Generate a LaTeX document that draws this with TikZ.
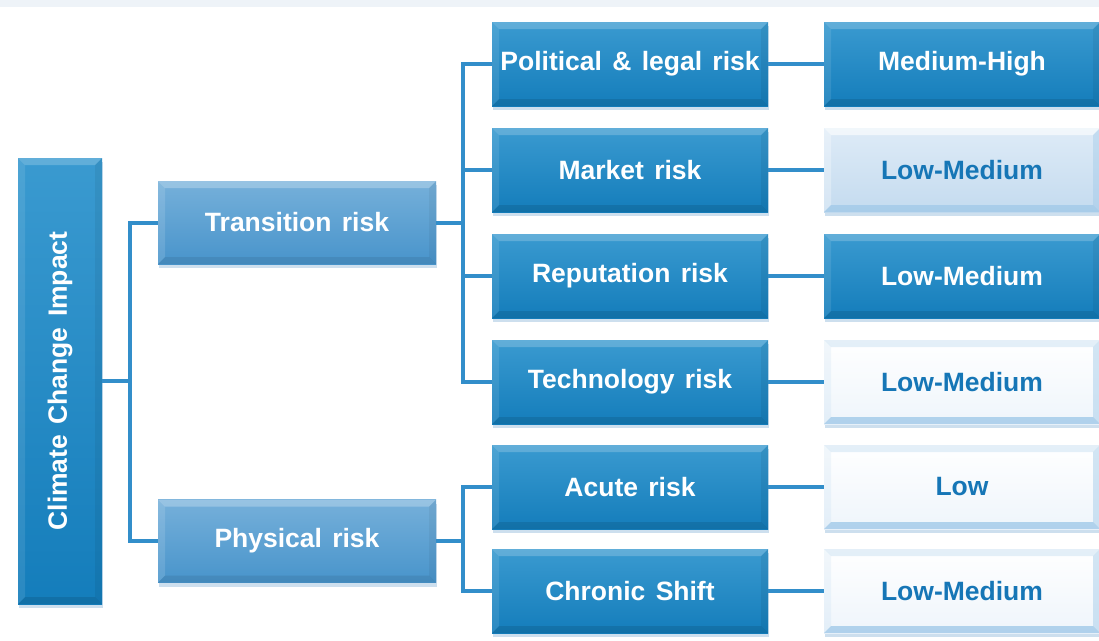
\documentclass[tikz,border=0pt]{standalone}
\usepackage{fontspec}
\setmainfont{Liberation Sans}[WordSpace=1.4]
\usetikzlibrary{shadows}
\definecolor{dkA}{RGB}{58,154,208}
\definecolor{dkB}{RGB}{20,125,187}
\definecolor{ltA}{RGB}{118,176,218}
\definecolor{ltB}{RGB}{72,148,203}
\definecolor{paleA}{RGB}{222,235,247}
\definecolor{paleB}{RGB}{196,219,239}
\definecolor{edgeBlue}{RGB}{150,195,230}
\definecolor{txtBlue}{RGB}{22,118,182}
\definecolor{lineBlue}{RGB}{50,142,202}
\definecolor{bgTop}{RGB}{238,243,248}
\definecolor{shadowBlue}{RGB}{90,150,200}
% #1 light colour, #2 light opacity, #3 dark colour, #4 dark opacity
\newcommand{\bevelfx}[4]{%
  \fill[#1, opacity=#2] (path picture bounding box.north west) -- (path picture bounding box.north east)
    -- ([xshift=-7pt,yshift=-7pt]path picture bounding box.north east)
    -- ([xshift=7pt,yshift=-7pt]path picture bounding box.north west) -- cycle;
  \fill[#1, opacity=#2*0.5] (path picture bounding box.north west) -- (path picture bounding box.south west)
    -- ([xshift=7pt,yshift=7pt]path picture bounding box.south west)
    -- ([xshift=7pt,yshift=-7pt]path picture bounding box.north west) -- cycle;
  \fill[#3, opacity=#4] (path picture bounding box.south west) -- (path picture bounding box.south east)
    -- ([xshift=-7pt,yshift=7pt]path picture bounding box.south east)
    -- ([xshift=7pt,yshift=7pt]path picture bounding box.south west) -- cycle;
  \fill[#3, opacity=#4*0.6] (path picture bounding box.north east) -- (path picture bounding box.south east)
    -- ([xshift=-7pt,yshift=7pt]path picture bounding box.south east)
    -- ([xshift=-7pt,yshift=-7pt]path picture bounding box.north east) -- cycle;}
\tikzset{
  box/.style={rectangle, inner sep=0pt, minimum width=276pt, minimum height=84pt,
    font=\bfseries\fontsize{26.5}{30}\selectfont,
    drop shadow={shadow xshift=1pt, shadow yshift=-4pt, opacity=0.3, fill=shadowBlue}},
  darkbox/.style={box, top color=dkA, bottom color=dkB, text=white,
    path picture={\bevelfx{white}{0.2}{black}{0.10}}},
  lightbox/.style={box, top color=ltA, bottom color=ltB, text=white,
    path picture={\bevelfx{white}{0.25}{black}{0.08}}},
  palebox/.style={box, top color=paleA, bottom color=paleB, text=txtBlue,
    path picture={\bevelfx{white}{0.6}{edgeBlue}{0.6}}},
  whitebox/.style={box, top color=white, bottom color=paleA!50, text=txtBlue,
    path picture={\bevelfx{edgeBlue}{0.25}{edgeBlue}{0.7}}},
  conn/.style={draw=lineBlue, line width=4pt}
}
\begin{document}
\begin{tikzpicture}[x=1pt,y=-1pt]
\fill[white] (0,0) rectangle (1099,640);
\fill[bgTop] (0,0) rectangle (1099,7);
\useasboundingbox (0,0) rectangle (1099,640);

\node[darkbox, minimum width=84pt, minimum height=446pt] (cci) at (60,381) {\rotatebox{90}{Climate Change Impact}};

\node[lightbox, minimum width=278pt, minimum height=83pt] (tr) at (297,222.5) {Transition risk};
\node[lightbox, minimum width=278pt, minimum height=83pt] (ph) at (297,541) {Physical risk};

\node[darkbox] (pol) at (630,64) {Political \& legal risk};
\node[darkbox] (mkt) at (630,170) {Market risk};
\node[darkbox] (rep) at (630,276) {Reputation risk};
\node[darkbox] (tec) at (630,382) {Technology risk};
\node[darkbox] (acu) at (630,487) {Acute risk};
\node[darkbox] (chr) at (630,591) {Chronic Shift};

\node[darkbox] (polv) at (962,64) {Medium-High};
\node[palebox] (mktv) at (962,170) {Low-Medium};
\node[darkbox] (repv) at (962,276) {Low-Medium};
\node[whitebox] (tecv) at (962,382) {Low-Medium};
\node[whitebox] (acuv) at (962,487) {Low};
\node[whitebox] (chrv) at (962,591) {Low-Medium};

\coordinate (j1) at (130,381);
\coordinate (j2) at (463,222.5);
\coordinate (j3) at (463,541);

\draw[conn] (cci.east) -- (j1);
\draw[conn] (j1) |- (tr.west);
\draw[conn] (j1) |- (ph.west);
\draw[conn] (tr.east) -- (j2);
\draw[conn] (j2) |- (pol.west);
\draw[conn] (j2) |- (mkt.west);
\draw[conn] (j2) |- (rep.west);
\draw[conn] (j2) |- (tec.west);
\draw[conn] (ph.east) -- (j3);
\draw[conn] (j3) |- (acu.west);
\draw[conn] (j3) |- (chr.west);
\draw[conn] (pol) -- (polv);
\draw[conn] (mkt) -- (mktv);
\draw[conn] (rep) -- (repv);
\draw[conn] (tec) -- (tecv);
\draw[conn] (acu) -- (acuv);
\draw[conn] (chr) -- (chrv);
\end{tikzpicture}
\end{document}
